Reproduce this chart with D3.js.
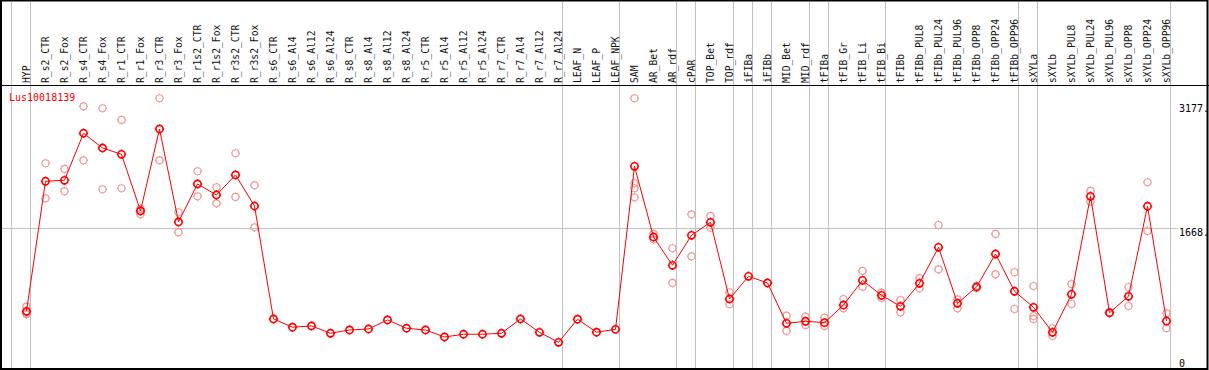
<!DOCTYPE html>
<html>
<head>
<meta charset="utf-8">
<script src="https://cdn.jsdelivr.net/npm/d3@7"></script>
<style>
body { margin: 0; background: #fff; }
text { font-family: "DejaVu Sans Mono", "Liberation Mono", monospace; }
</style>
</head>
<body>
<div id="chart"></div>
<script>
var geneName = "Lus10018139";

var categories = ["HYP", "R_s2_CTR", "R_s2_Fox", "R_s4_CTR", "R_s4_Fox", "R_r1_CTR", "R_r1_Fox",
	"R_r3_CTR", "R_r3_Fox", "R_r1s2_CTR", "R_r1s2_Fox", "R_r3s2_CTR", "R_r3s2_Fox", "R_s6_CTR",
	"R_s6_Al4", "R_s6_Al12", "R_s6_Al24", "R_s8_CTR", "R_s8_Al4", "R_s8_Al12", "R_s8_Al24",
	"R_r5_CTR", "R_r5_Al4", "R_r5_Al12", "R_r5_Al24", "R_r7_CTR", "R_r7_Al4", "R_r7_Al12",
	"R_r7_Al24", "LEAF_N", "LEAF_P", "LEAF_NPK", "SAM", "AR_Bet", "AR_rdf", "cPAR", "TOP_Bet",
	"TOP_rdf", "iFIBa", "iFIBb", "MID_Bet", "MID_rdf", "tFIBa", "tFIB_Gr", "tFIB_Li", "tFIB_Bi",
	"tFIBb", "tFIBb_PUL8", "tFIBb_PUL24", "tFIBb_PUL96", "tFIBb_OPP8", "tFIBb_OPP24",
	"tFIBb_OPP96", "sXYLa", "sXYLb", "sXYLb_PUL8", "sXYLb_PUL24", "sXYLb_PUL96", "sXYLb_OPP8",
	"sXYLb_OPP24", "sXYLb_OPP96"];

// mean expression per sample (the red line)
var means = [659, 2241, 2253, 2825, 2646, 2569, 1880, 2877, 1746, 2208, 2074, 2318, 1940, 566,
	466, 481, 392, 432, 444, 554, 453, 432, 347, 380, 380, 392, 566, 404, 282, 563, 405, 440,
	2423, 1563, 1219, 1584, 1742, 809, 1085, 1004, 513, 538, 521, 736, 1036, 854, 720, 1000,
	1438, 757, 955, 1356, 903, 708, 404, 866, 2058, 642, 842, 1937, 541];

// single replicates (pink circles)
var replicates = [[715, 640, 623], [2460, 2034], [2391, 2119], [3153, 2496], [3129, 2144],
	[2987, 2156], [1904, 1839, 1880], [3251, 2496], [1864, 1620], [2363, 2058], [2168, 1973],
	[2582, 2050], [2192, 1681],
	[], [], [], [], [], [], [], [], [], [], [], [], [], [], [], [], [], [], [],
	[3251, 2217, 2156, 2046], [1600, 1535], [1426, 1004], [1839, 1328], [1819, 1676], [891, 745],
	[], [], [606, 420], [594, 493], [582, 481], [809, 696], [1150, 959], [886, 821], [797, 647],
	[1064, 939], [1709, 1170], [805, 696], [967, 943], [1600, 1109], [1134, 687],
	[967, 602, 566], [453, 359], [991, 748], [2123, 1993], [647, 639], [955, 724], [2229, 1636],
	[635, 453]];

// a divider follows each of these samples
var groupEnds = ["HYP", "R_r7_Al24", "LEAF_NPK", "AR_rdf", "cPAR", "TOP_rdf", "iFIBa", "iFIBb",
	"MID_rdf", "tFIBa", "tFIB_Bi", "tFIBb_OPP96", "sXYLa", "sXYLb_OPP96"];

var yTicks = [0, 1668, 3177];

var width = 1209, height = 370;
var headerH = 85, plotBottom = 368;

var svg = d3.select("#chart").append("svg")
	.attr("width", width).attr("height", height)
	.style("display", "block");

var x = d3.scalePoint().domain(categories).range([26.5, 1166.5]);
var step = x.step();
var y = d3.scaleLinear().domain([0, 3412]).range([365.5, headerH]);

// vertical dividers, full height (header included)
var divX = [x(categories[0]) - step + 4].concat(groupEnds.map(function(c) { return x(c) + 4; }));
svg.append("g").selectAll("line").data(divX).enter().append("line")
	.attr("x1", function(d) { return d; }).attr("x2", function(d) { return d; })
	.attr("y1", 0).attr("y2", plotBottom)
	.attr("stroke", "#c0c0c0").attr("stroke-width", 1).attr("shape-rendering", "crispEdges");

// horizontal grid at the middle tick
svg.append("line")
	.attr("x1", 2).attr("x2", 1178)
	.attr("y1", Math.round(y(yTicks[1])) + 0.5).attr("y2", Math.round(y(yTicks[1])) + 0.5)
	.attr("stroke", "#c0c0c0").attr("stroke-width", 1);

// rotated sample labels
svg.append("g").selectAll("text").data(categories).enter().append("text")
	.attr("transform", function(d) { return "translate(" + (x(d) + 3.5) + "," + (headerH - 2) + ") rotate(-90)"; })
	.attr("font-size", "9.7px").attr("fill", "#111")
	.text(function(d) { return d; });

// header separator + frame
svg.append("line").attr("x1", 0).attr("x2", width).attr("y1", headerH + 0.5).attr("y2", headerH + 0.5)
	.attr("stroke", "#000").attr("stroke-width", 1);
svg.append("rect").attr("x", 1).attr("y", 0.5).attr("width", width - 2.5).attr("height", height - 1.5)
	.attr("fill", "none").attr("stroke", "#000").attr("stroke-width", 2);

// y labels on the right
var yAxis = d3.axisRight(y).tickValues(yTicks).tickSize(0)
	.tickFormat(function(d) { return d === 0 ? "0" : d + "."; });
var ax = svg.append("g").attr("transform", "translate(1179,0)").call(yAxis);
ax.select(".domain").remove();
ax.selectAll("text")
	.attr("x", 0).attr("dy", null)
	.attr("y", function(d) { return Math.min(y(d) + 7.5, 366) - y(d); })
	.attr("font-family", "DejaVu Sans Mono, monospace").attr("font-size", "10px").attr("fill", "#000");

// marker: circle with four small ticks
function marker(r) {
	var t = r + 1.1;
	var p = d3.path();
	p.moveTo(r, 0); p.arc(0, 0, r, 0, 2 * Math.PI);
	p.moveTo(0, -r); p.lineTo(0, -t);
	p.moveTo(0, r); p.lineTo(0, t);
	p.moveTo(-r, 0); p.lineTo(-t, 0);
	p.moveTo(r, 0); p.lineTo(t, 0);
	return p.toString();
}

// replicate points
var repPts = [];
replicates.forEach(function(list, i) {
	list.forEach(function(v) { repPts.push({ c: categories[i], v: v }); });
});
svg.append("g").selectAll("path").data(repPts).enter().append("path")
	.attr("transform", function(d) { return "translate(" + x(d.c) + "," + y(d.v) + ")"; })
	.attr("d", marker(3.5))
	.attr("fill", "none").attr("stroke", "#f09a9a").attr("stroke-width", 1.2);

// mean line
var line = d3.line()
	.x(function(d, i) { return x(categories[i]); })
	.y(function(d) { return y(d); });
svg.append("path").datum(means).attr("d", line)
	.attr("fill", "none").attr("stroke", "#ff0000").attr("stroke-width", 1);

svg.append("g").selectAll("path").data(means).enter().append("path")
	.attr("transform", function(d, i) { return "translate(" + x(categories[i]) + "," + y(d) + ")"; })
	.attr("d", marker(3.6))
	.attr("fill", "none").attr("stroke", "#ff0000").attr("stroke-width", 1.6);

// gene name
svg.append("text").attr("x", 9).attr("y", 101)
	.attr("font-size", "10px").attr("fill", "#ff0000")
	.text(geneName);
</script>
</body>
</html>
